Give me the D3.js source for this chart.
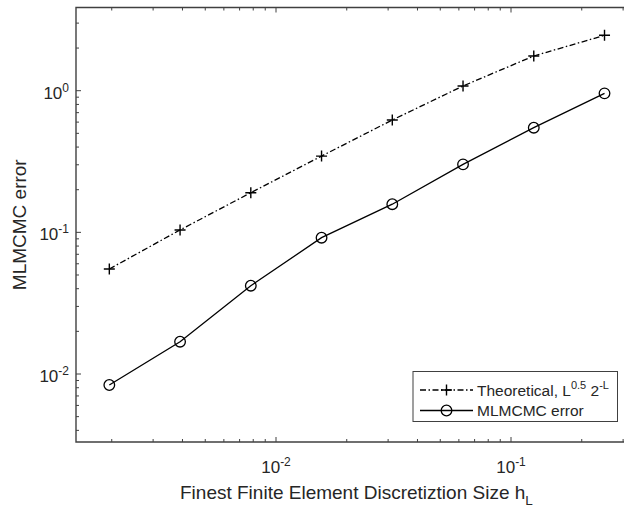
<!DOCTYPE html>
<html>
<head>
<meta charset="utf-8">
<script src="https://cdn.jsdelivr.net/npm/d3@7"></script>
<style>
  body { margin: 0; background: #fff; }
  svg { display: block; }
  text { font-family: "Liberation Sans", Arial, sans-serif; fill: #262626; }
</style>
</head>
<body>
<svg id="svg" width="624" height="508"></svg>
<script>
    // mesh sizes h_L = 2^-9 ... 2^-2
    var hL = [0.001953125, 0.00390625, 0.0078125, 0.015625, 0.03125, 0.0625, 0.125, 0.25];
    var theoretical = [0.0551, 0.104, 0.1905, 0.3455, 0.621, 1.08, 1.758, 2.46];
    var mlmcmcErr = [0.00836, 0.0169, 0.042, 0.0917, 0.158, 0.302, 0.548, 0.958];
    var xTicks = [0.01, 0.1];
    var yTicks = [0.01, 0.1, 1];
    var legendLabels = ["Theoretical, ", "MLMCMC error"];

    var axisCol = "#404040";

    // plot box (right side falls outside the picture)
    var pLeft = 76, pTop = 7.5, pRight = 640, pBottom = 442;
    var svg = d3.select("#svg");

    // x: 10^-2 at 276, 10^-1 at 511
    var x = d3.scaleLog()
        .domain([Math.pow(10, -2 - 200 / 235), Math.pow(10, -1 + (pRight - 511) / 235)])
        .range([pLeft, pRight]);
    var y = d3.scaleLog()
        .domain([Math.pow(10, -2 - (pBottom - 374) / 141.65), Math.pow(10, (90.7 - pTop) / 141.65)])
        .range([pBottom, pTop]);

    // minor / major ticks
    function logTicks(scale) {
        var d = scale.domain(), out = [];
        var e0 = Math.floor(Math.log10(d[0])), e1 = Math.ceil(Math.log10(d[1]));
        for (var e = e0; e <= e1; e++) {
            for (var m = 1; m < 10; m++) {
                var v = m * Math.pow(10, e);
                if (v >= d[0] && v <= d[1]) out.push({ v: v, major: m == 1 });
            }
        }
        return out;
    }

    var g = svg.append("g");
    logTicks(x).forEach(function (t) {
        var len = t.major ? 5 : 3;
        var px = x(t.v);
        g.append("line").attr("x1", px).attr("x2", px).attr("y1", pBottom).attr("y2", pBottom - len)
            .attr("stroke", axisCol).attr("stroke-width", 1);
        g.append("line").attr("x1", px).attr("x2", px).attr("y1", pTop).attr("y2", pTop + len)
            .attr("stroke", axisCol).attr("stroke-width", 1);
    });
    logTicks(y).forEach(function (t) {
        var len = t.major ? 5 : 3;
        var py = y(t.v);
        g.append("line").attr("x1", pLeft).attr("x2", pLeft + len).attr("y1", py).attr("y2", py)
            .attr("stroke", axisCol).attr("stroke-width", 1);
    });

    svg.append("path")
        .attr("d", "M" + pRight + "," + pTop + "H" + pLeft + "V" + pBottom + "H" + pRight)
        .attr("fill", "none").attr("stroke", axisCol).attr("stroke-width", 1.4);

    // tick labels
    xTicks.forEach(function (v) {
        var t = svg.append("text").attr("x", x(v)).attr("y", 473)
            .attr("text-anchor", "middle").attr("font-size", "17px");
        t.append("tspan").text("10");
        t.append("tspan").attr("dy", -7).attr("font-size", "12px").text(Math.round(Math.log10(v)));
    });
    yTicks.forEach(function (v) {
        var t = svg.append("text").attr("x", 69).attr("y", y(v) + 8)
            .attr("text-anchor", "end").attr("font-size", "17px");
        t.append("tspan").text("10");
        t.append("tspan").attr("dy", -7).attr("font-size", "12px").text(Math.round(Math.log10(v)));
    });

    // axis titles
    var xt = svg.append("text").attr("x", 180).attr("y", 499).attr("font-size", "19px");
    xt.append("tspan").text("Finest Finite Element Discretiztion Size h");
    xt.append("tspan").attr("dy", 6).attr("font-size", "13.5px").text("L");

    svg.append("text").attr("transform", "translate(25.5," + ((pTop + pBottom) / 2) + ") rotate(-90)")
        .attr("text-anchor", "middle").attr("font-size", "19px").text("MLMCMC error");

    // series
    var line = d3.line().x(function (d) { return x(d[0]); }).y(function (d) { return y(d[1]); });
    var thData = hL.map(function (h, i) { return [h, theoretical[i]]; });
    var mlData = hL.map(function (h, i) { return [h, mlmcmcErr[i]]; });

    svg.append("path").attr("d", line(thData)).attr("fill", "none")
        .attr("stroke", "#000").attr("stroke-width", 1.3).attr("stroke-dasharray", "6,2.5,1.5,2.5");
    svg.append("path").attr("d", line(mlData)).attr("fill", "none")
        .attr("stroke", "#000").attr("stroke-width", 1.3);

    function plus(sel, cx, cy) {
        sel.append("path").attr("d", "M" + (cx - 5.5) + "," + cy + "H" + (cx + 5.5) + "M" + cx + "," + (cy - 5.5) + "V" + (cy + 5.5))
            .attr("stroke", "#000").attr("stroke-width", 1.4);
    }
    function circ(sel, cx, cy) {
        sel.append("circle").attr("cx", cx).attr("cy", cy).attr("r", 5.3)
            .attr("fill", "none").attr("stroke", "#000").attr("stroke-width", 1.3);
    }
    thData.forEach(function (d) { plus(svg, x(d[0]), y(d[1])); });
    mlData.forEach(function (d) { circ(svg, x(d[0]), y(d[1])); });

    // legend
    var lg = svg.append("g");
    lg.append("rect").attr("x", 413).attr("y", 371.5).attr("width", 204.5).attr("height", 50)
        .attr("fill", "#fff").attr("stroke", axisCol).attr("stroke-width", 1);
    lg.append("line").attr("x1", 420).attr("x2", 473).attr("y1", 390).attr("y2", 390)
        .attr("stroke", "#000").attr("stroke-width", 1.3).attr("stroke-dasharray", "6,2.5,1.5,2.5");
    plus(lg, 446.5, 390);
    lg.append("line").attr("x1", 420).attr("x2", 473).attr("y1", 410.5).attr("y2", 410.5)
        .attr("stroke", "#000").attr("stroke-width", 1.3);
    circ(lg, 446.5, 410.5);

    var l1 = lg.append("text").attr("x", 477).attr("y", 395.5).attr("font-size", "15.5px");
    l1.append("tspan").text(legendLabels[0] + "L");
    l1.append("tspan").attr("dy", -6.5).attr("font-size", "11px").text("0.5");
    l1.append("tspan").attr("dy", 6.5).text(" 2");
    l1.append("tspan").attr("dy", -6.5).attr("font-size", "11px").text("-L");
    lg.append("text").attr("x", 477).attr("y", 416).attr("font-size", "15.5px").text(legendLabels[1]);
</script>
</body>
</html>
